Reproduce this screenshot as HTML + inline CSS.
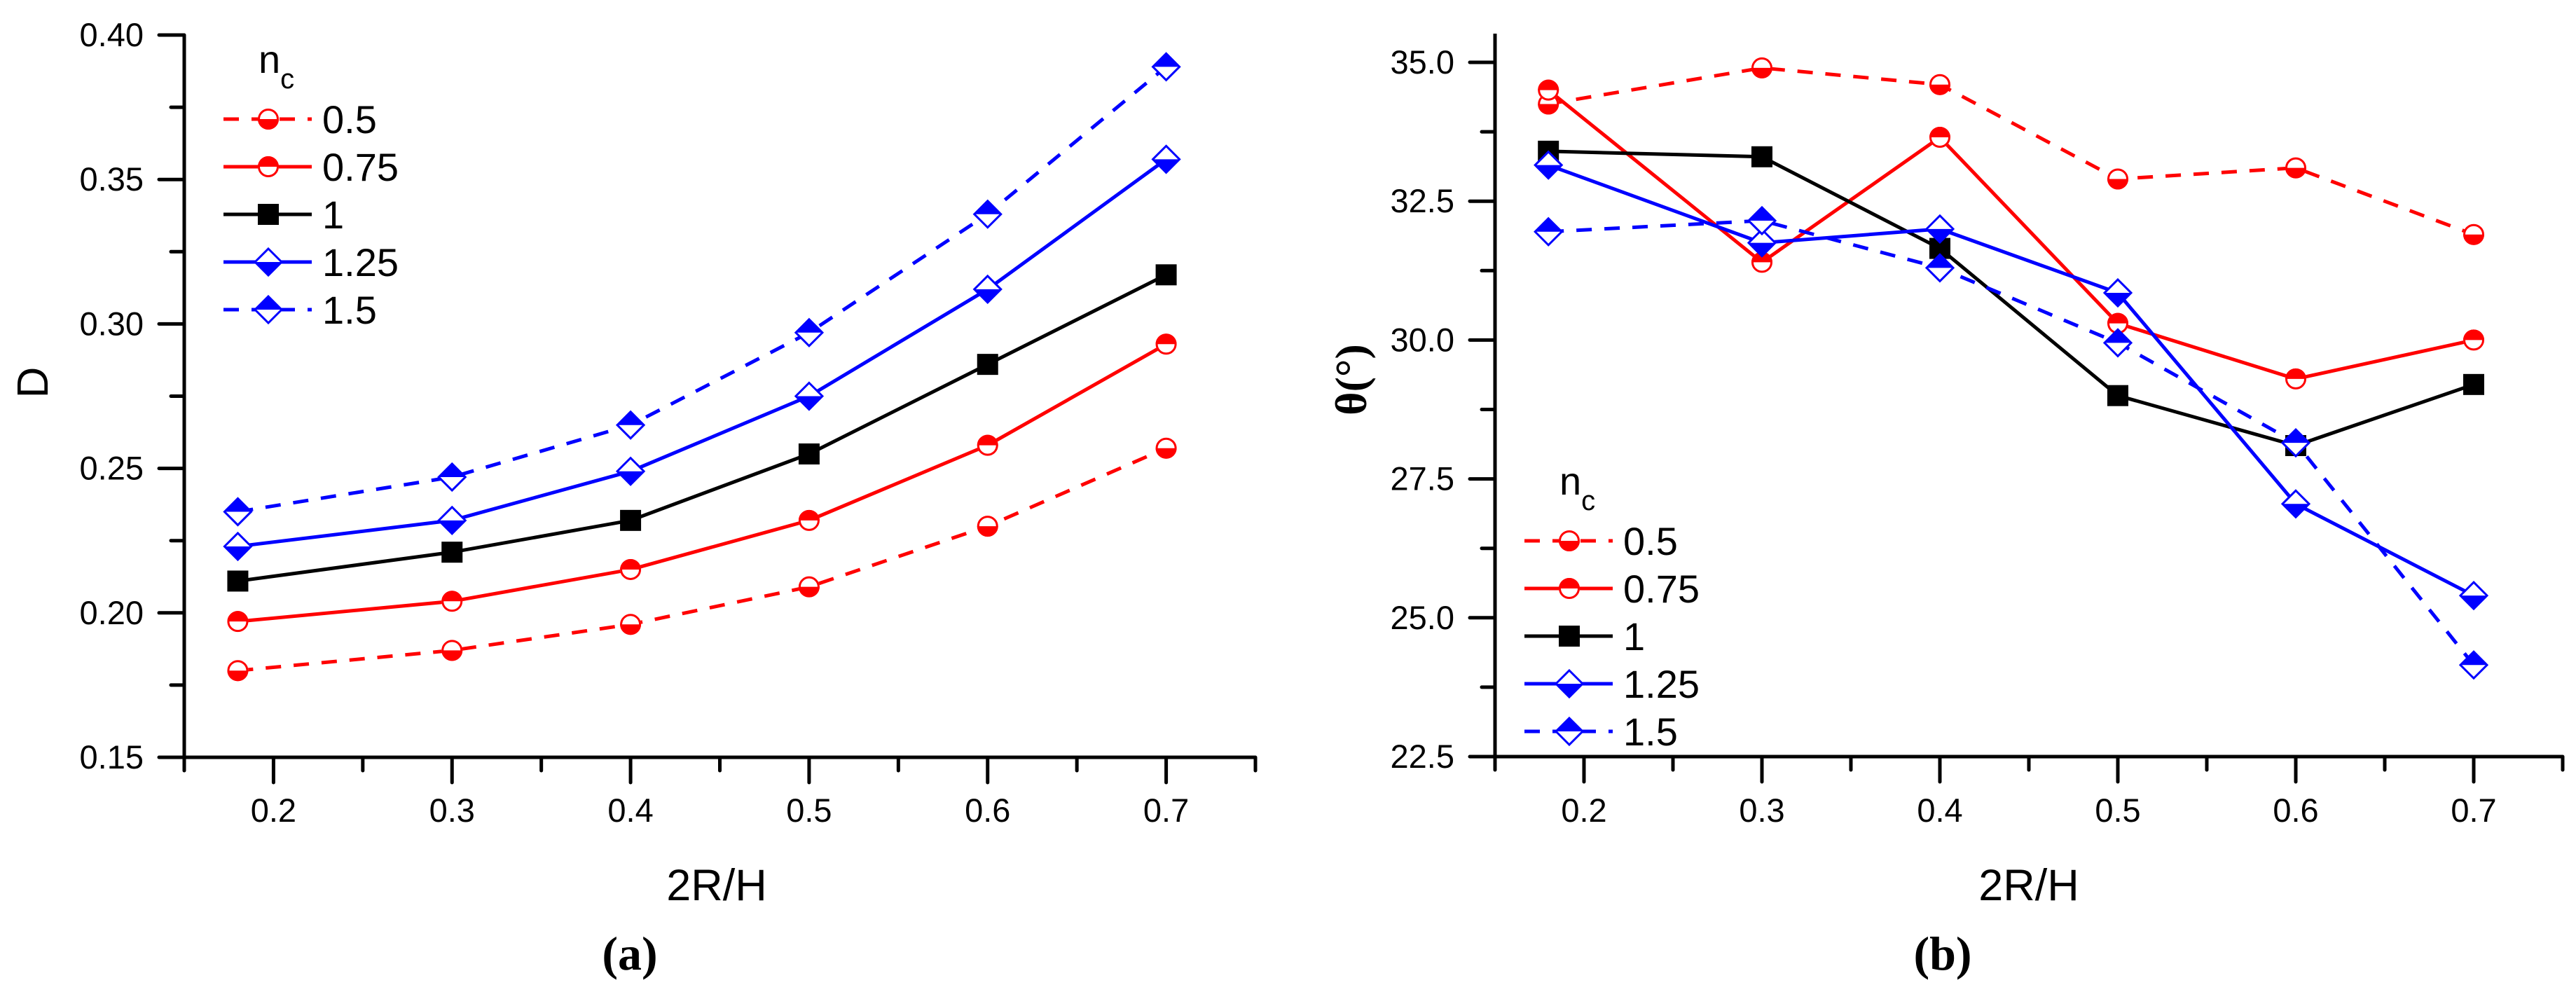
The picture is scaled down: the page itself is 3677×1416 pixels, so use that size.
<!DOCTYPE html>
<html><head><meta charset="utf-8"><style>
html,body{margin:0;padding:0;background:#fff;}
svg{display:block;}
text{font-family:"Liberation Sans Narrow","Liberation Sans",sans-serif;fill:#000;}
</style></head><body>
<svg id="fig" width="3677" height="1416" viewBox="0 0 3677 1416" xmlns="http://www.w3.org/2000/svg"></svg>
<script>
const xCats = [0.18, 0.3, 0.4, 0.5, 0.6, 0.7];
const seriesNames = ["0.5", "0.75", "1", "1.25", "1.5"];
const dA_05 = [0.180, 0.187, 0.196, 0.209, 0.230, 0.257];
const dA_075 = [0.197, 0.204, 0.215, 0.232, 0.258, 0.293];
const dA_1 = [0.211, 0.221, 0.232, 0.255, 0.286, 0.317];
const dA_125 = [0.223, 0.232, 0.249, 0.275, 0.312, 0.357];
const dA_15 = [0.235, 0.247, 0.265, 0.297, 0.338, 0.389];
const tB_05 = [34.25, 34.9, 34.6, 32.9, 33.1, 31.9];
const tB_075 = [34.5, 31.4, 33.65, 30.3, 29.3, 30.0];
const tB_1 = [33.4, 33.3, 31.65, 29.0, 28.1, 29.2];
const tB_125 = [33.15, 31.75, 32.0, 30.85, 27.05, 25.4];
const tB_15 = [31.95, 32.15, 31.3, 29.95, 28.15, 24.15];
const xTicks = ["0.2", "0.3", "0.4", "0.5", "0.6", "0.7"];
const yTicksA = ["0.15", "0.20", "0.25", "0.30", "0.35", "0.40"];
const yTicksB = ["22.5", "25.0", "27.5", "30.0", "32.5", "35.0"];

const NS = "http://www.w3.org/2000/svg";
const svg = document.getElementById("fig");
function mk(tag, attrs, parent, txt) {
  const e = document.createElementNS(NS, tag);
  for (const k in attrs) e.setAttribute(k, attrs[k]);
  if (txt !== undefined) e.textContent = txt;
  (parent || svg).appendChild(e);
  return e;
}
const styles = [
  {color: "#ff0000", dash: "22,18", marker: "circle", topFill: false},
  {color: "#ff0000", dash: null, marker: "circle", topFill: true},
  {color: "#000000", dash: null, marker: "square"},
  {color: "#0000ff", dash: null, marker: "diamond", topFill: false},
  {color: "#0000ff", dash: "22,18", marker: "diamond", topFill: true}
];

function marker(g, type, cx, cy, color, topFill) {
  if (type === "square") {
    mk("rect", {x: cx - 15, y: cy - 15, width: 30, height: 30, fill: color}, g);
    return;
  }
  if (type === "circle") {
    const r = 15;
    mk("circle", {cx: cx, cy: cy, r: r, fill: "#fff", stroke: "none"}, g);
    const sweepTop = `M${cx - r},${cy} A${r},${r} 0 0 1 ${cx + r},${cy} Z`;
    const sweepBot = `M${cx - r},${cy} A${r},${r} 0 0 0 ${cx + r},${cy} Z`;
    mk("path", {d: topFill ? sweepTop : sweepBot, fill: color}, g);
    mk("circle", {cx: cx, cy: cy, r: r - 1.5, fill: "none", stroke: color, "stroke-width": 3}, g);
    return;
  }
  const h = 19;
  mk("polygon", {points: `${cx},${cy - h} ${cx + h},${cy} ${cx},${cy + h} ${cx - h},${cy}`, fill: "#fff"}, g);
  const half = topFill ? `${cx - h},${cy} ${cx},${cy - h} ${cx + h},${cy}` : `${cx - h},${cy} ${cx},${cy + h} ${cx + h},${cy}`;
  mk("polygon", {points: half, fill: color}, g);
  mk("polygon", {points: `${cx},${cy - h} ${cx + h},${cy} ${cx},${cy + h} ${cx - h},${cy}`, fill: "none", stroke: color, "stroke-width": 3}, g);
}

function panel(opt) {
  const g = mk("g", {});
  
  
  const X = v => opt.x0 + (v - 0.15) / 0.6 * (opt.x1 - opt.x0);
  const Y = v => opt.yBot - (v - opt.ymin) / (opt.ymax - opt.ymin) * (opt.yBot - opt.yTopVal);
  // axes
  const ax = mk("g", {}, g);
  
  
  mk("line", {x1: opt.x0, y1: opt.yTop, x2: opt.x0, y2: opt.yBot + 2, stroke: "#000", "stroke-width": 5}, ax);
  mk("line", {x1: opt.x0 - 2, y1: opt.yBot, x2: opt.x1, y2: opt.yBot, stroke: "#000", "stroke-width": 5}, ax);
  // x ticks
  for (let i = 0; i <= 12; i++) {
    const v = 0.15 + i * 0.05;
    const x = X(v);
    const major = i % 2 === 1;
    mk("line", {x1: x, y1: opt.yBot, x2: x, y2: opt.yBot + (major ? 36 : 19), stroke: "#000", "stroke-width": 5, "stroke-linecap": "round"}, ax);
  }
  xTicks.forEach((t, i) => {
    const tl = mk("text", {x: X(0.2 + i * 0.1), y: 1173, "font-size": 47, "text-anchor": "middle"}, ax, t);
    
    
  });
  // y ticks
  const step = (opt.ymax - opt.ymin) / 10;
  for (let i = 0; i <= 10; i++) {
    const y = Y(opt.ymin + i * step);
    const major = i % 2 === 0;
    mk("line", {x1: opt.x0 - (major ? 36 : 19), y1: y, x2: opt.x0, y2: y, stroke: "#000", "stroke-width": 5, "stroke-linecap": "round"}, ax);
  }
  opt.yTicks.forEach((t, i) => {
    const tl = mk("text", {x: opt.x0 - 58, y: Y(opt.ymin + i * 2 * step) + 16, "font-size": 47, "text-anchor": "end"}, ax, t);
    
    
  });
  const xt = mk("text", {x: opt.xTitleX, y: 1285, "font-size": 63, "text-anchor": "middle"}, g, "2R/H");
  
  
  const yt = mk("text", {x: 0, y: 0, "font-size": opt.yTitleSize, "text-anchor": "middle", transform: `translate(${opt.yTitleX},${opt.yTitleY}) rotate(-90)`, style: opt.yTitleStyle}, g, opt.yTitle);
  
  
  const cap = mk("text", {x: opt.capX, y: 1384, "font-size": 68, "text-anchor": "middle", style: 'font-family:"Liberation Serif",serif;font-weight:bold'}, g, opt.cap);
  
  
  // series
  opt.data.forEach((vals, si) => {
    const st = styles[si];
    const sg = mk("g", {}, g);
    
    
    const pts = vals.map((v, i) => `${X(xCats[i])},${Y(v)}`).join(" ");
    const pl = mk("polyline", {points: pts, fill: "none", stroke: st.color, "stroke-width": 5}, sg);
    if (st.dash) pl.setAttribute("stroke-dasharray", st.dash);
    vals.forEach((v, i) => {
      const mg = mk("g", {}, sg);
      
      
      marker(mg, st.marker, X(xCats[i]), Y(v), st.color, st.topFill);
    });
  });
  // legend
  const lg = mk("g", {}, g);
  
  
  const nt = mk("text", {x: opt.legX + 50, y: opt.legY0 - 66, "font-size": 56}, lg);
  mk("tspan", {}, nt, "n");
  mk("tspan", {dy: 22, "font-size": 40}, nt, "c");
  seriesNames.forEach((nm, si) => {
    const st = styles[si];
    const y = opt.legY0 + si * 68;
    const eg = mk("g", {}, lg);
    
    
    const l = mk("line", {x1: opt.legX, y1: y, x2: opt.legX + 126, y2: y, stroke: st.color, "stroke-width": 5}, eg);
    if (st.dash) l.setAttribute("stroke-dasharray", "22,18");
    marker(eg, st.marker, opt.legX + 64, y, st.color, st.topFill);
    mk("text", {x: opt.legX + 141, y: y + 20, "font-size": 56}, eg, nm);
  });
}

panel({name: "chart-a", x0: 263, x1: 1792, yTop: 50, yBot: 1081, ymin: 0.15, ymax: 0.40, yTopVal: 50,
  yTicks: yTicksA, data: [dA_05, dA_075, dA_1, dA_125, dA_15],
  xTitleX: 1023, yTitle: "D", yTitleX: 68, yTitleY: 546, yTitleSize: 62, yTitleStyle: "",
  cap: "(a)", capX: 899, legX: 319, legY0: 170});
panel({name: "chart-b", x0: 2134, x1: 3658, yTop: 48, yBot: 1080, ymin: 22.5, ymax: 35.0, yTopVal: 89,
  yTicks: yTicksB, data: [tB_05, tB_075, tB_1, tB_125, tB_15],
  xTitleX: 2896, yTitle: "θ(°)", yTitleX: 1950, yTitleY: 542, yTitleSize: 64, yTitleStyle: 'font-family:"Liberation Serif",serif;font-weight:bold',
  cap: "(b)", capX: 2773, legX: 2176, legY0: 772});
</script>
</body></html>
